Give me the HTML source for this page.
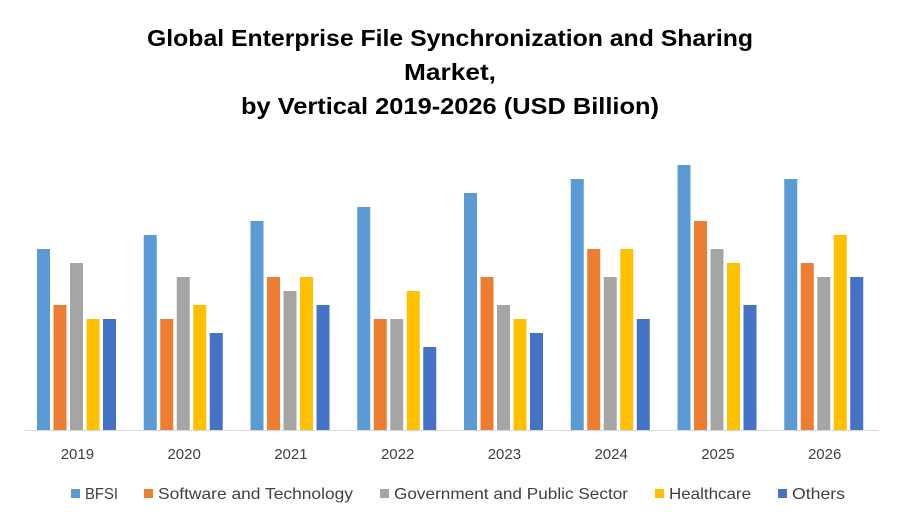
<!DOCTYPE html>
<html><head><meta charset="utf-8"><style>
body{margin:0;background:#fff;font-family:"Liberation Sans",sans-serif}
</style></head><body>
<svg width="900" height="525" xmlns="http://www.w3.org/2000/svg">
<g id="title" font-family="Liberation Sans, sans-serif" font-weight="bold" font-size="23" fill="#000" text-anchor="middle">
<text x="450" y="46" textLength="606" lengthAdjust="spacingAndGlyphs">Global Enterprise File Synchronization and Sharing</text>
<text x="450" y="80" textLength="92" lengthAdjust="spacingAndGlyphs">Market,</text>
<text x="450" y="114" textLength="418" lengthAdjust="spacingAndGlyphs">by Vertical 2019-2026 (USD Billion)</text>
</g>
<g id="bars"></g>
<line x1="24" y1="430.5" x2="878" y2="430.5" stroke="#d9d9d9" stroke-width="1"/>
<g id="xlabels" font-size="15" fill="#404040" text-anchor="middle"></g>
<g id="legend" font-size="16" fill="#404040"></g>
</svg>
<script>
const years = ["2019","2020","2021","2022","2023","2024","2025","2026"];
const seriesNames = ["BFSI","Software and Technology","Government and Public Sector","Healthcare","Others"];
const bfsi = [13,14,15,16,17,18,19,18];
const software = [9,8,11,8,11,13,15,12];
const government = [12,11,10,8,9,11,13,11];
const healthcare = [8,9,11,10,8,13,12,14];
const others = [8,7,9,6,7,8,9,11];
const series = [bfsi,software,government,healthcare,others];
const colors = ["#5B9BD5","#ED7D31","#A5A5A5","#FFC000","#4472C4"];
const NS="http://www.w3.org/2000/svg";
const base=430, unit=14, x0=24, gw=(878-24)/8;
const yScale=v=>base-v*unit+1;
const xScale=(i,s)=>x0+i*gw+13+s*16.5;
const bars=document.getElementById('bars');
series.forEach((arr,s)=>arr.forEach((v,i)=>{
  const r=document.createElementNS(NS,'rect');
  r.setAttribute('x',xScale(i,s));r.setAttribute('y',yScale(v));
  r.setAttribute('width',13);r.setAttribute('height',base-yScale(v));
  r.setAttribute('fill',colors[s]);
  
  
  bars.appendChild(r);
}));
const xl=document.getElementById('xlabels');
years.forEach((y,i)=>{
  const t=document.createElementNS(NS,'text');
  t.setAttribute('x',x0+i*gw+gw/2);t.setAttribute('y',459);t.textContent=y;
  
  
  xl.appendChild(t);
});
const lg=document.getElementById('legend');
const lx=[85,158,394,669,792];
const lw=[33,195,234,82,53];
seriesNames.forEach((n,s)=>{
  const g=document.createElementNS(NS,'g');
  
  
  const r=document.createElementNS(NS,'rect');
  r.setAttribute('x',lx[s]-14);r.setAttribute('y',489);r.setAttribute('width',9);r.setAttribute('height',9);r.setAttribute('fill',colors[s]);
  const t=document.createElementNS(NS,'text');
  t.setAttribute('x',lx[s]);t.setAttribute('y',499);t.textContent=n;
  t.setAttribute('textLength',lw[s]);t.setAttribute('lengthAdjust','spacingAndGlyphs');
  g.appendChild(r);g.appendChild(t);lg.appendChild(g);
});
</script>
</body></html>
